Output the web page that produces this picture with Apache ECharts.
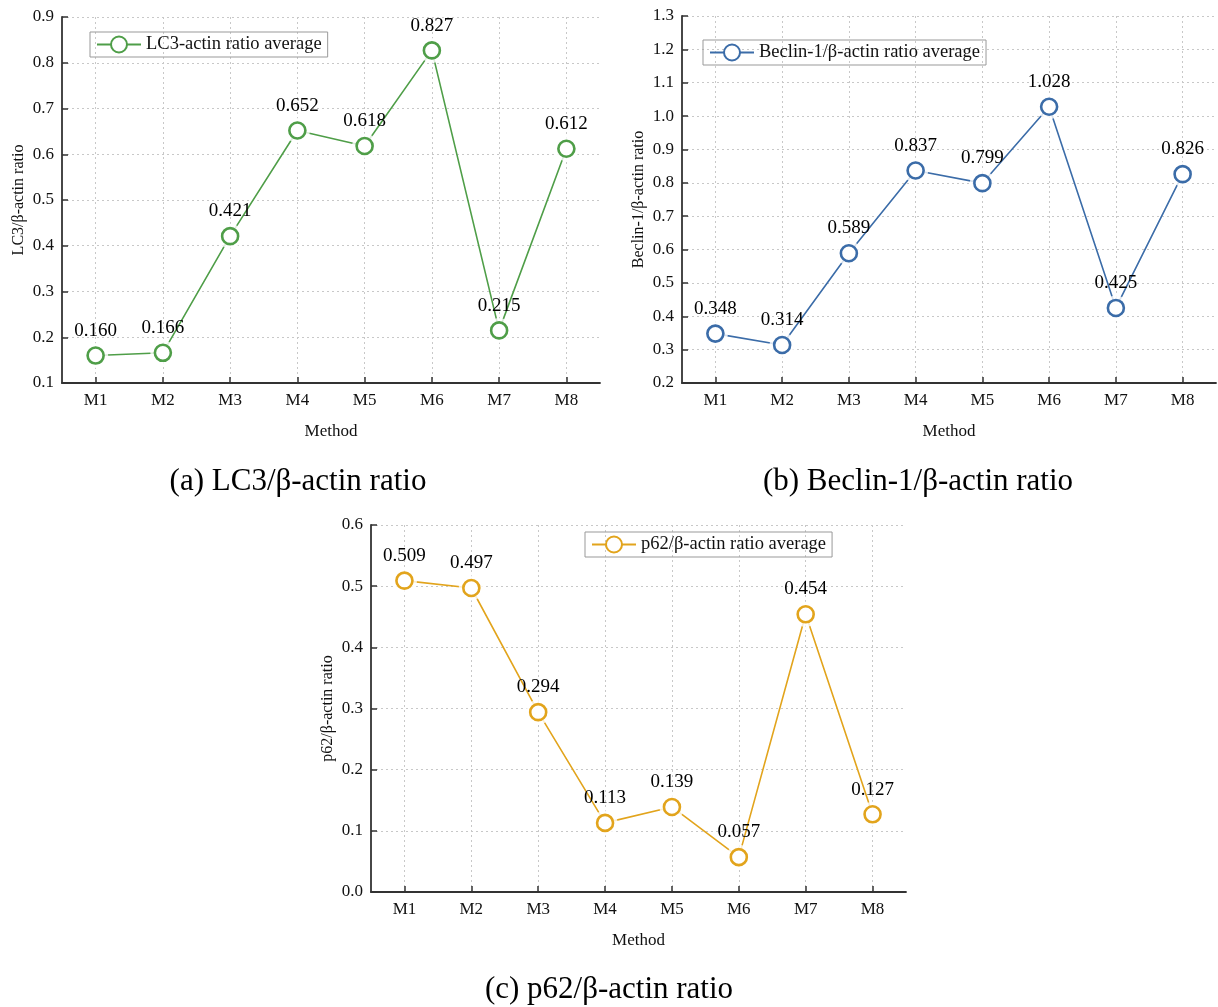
<!DOCTYPE html>
<html>
<head>
<meta charset="utf-8">
<script src="https://cdn.jsdelivr.net/npm/echarts@6/dist/echarts.min.js"></script>
<style>html,body{margin:0;padding:0;background:#fff}#c{width:1218px;height:1007px}</style>
</head>
<body>
<div id="c"></div>
<script>
const categories = ['M1','M2','M3','M4','M5','M6','M7','M8'];
const lc3Values = [0.160, 0.166, 0.421, 0.652, 0.618, 0.827, 0.215, 0.612];
const beclinValues = [0.348, 0.314, 0.589, 0.837, 0.799, 1.028, 0.425, 0.826];
const p62Values = [0.509, 0.497, 0.294, 0.113, 0.139, 0.057, 0.454, 0.127];
const seriesNames = ['LC3-actin ratio average', 'Beclin-1/β-actin ratio average', 'p62/β-actin ratio average'];
const yAxisNames = ['LC3/β-actin ratio', 'Beclin-1/β-actin ratio', 'p62/β-actin ratio'];
const xAxisName = 'Method';
const captions = ['(a) LC3/β-actin ratio', '(b) Beclin-1/β-actin ratio', '(c) p62/β-actin ratio'];
const yRanges = [[0.1, 0.9], [0.2, 1.3], [0.0, 0.6]];
const yInterval = 0.1;

const FONT = 'Liberation Serif';
const TXT = '#111';
const colors = ['#4f9e48', '#3b6ca8', '#e2a41c'];
const grids = [
  {left: 62, top: 17, width: 538, height: 366},
  {left: 682, top: 16, width: 534, height: 367},
  {left: 371, top: 525, width: 535, height: 367}
];
const legendPos = [
  {left: 90, top: 32},
  {left: 703, top: 40},
  {left: 585, top: 532}
];
const captionPos = [[298, 482], [918, 482], [609, 990]];
const allData = [lc3Values, beclinValues, p62Values];

const axisLineStyle = {color: '#333', width: 1.8};
const splitStyle = {color: '#c8c8c8', type: [2, 3], width: 1};

const option = {
  animation: false,
  backgroundColor: '#fff',
  textStyle: {fontFamily: FONT, color: TXT},
  grid: grids.map(g => Object.assign({containLabel: false}, g)),
  xAxis: grids.map((g, i) => ({
    type: 'category', gridIndex: i, data: categories,
    name: xAxisName, nameLocation: 'middle', nameGap: 40,
    nameTextStyle: {fontFamily: FONT, fontSize: 17, color: TXT},
    axisLine: {lineStyle: axisLineStyle},
    axisTick: {show: true, inside: true, alignWithLabel: true, length: 6, lineStyle: {color: '#333', width: 1.5}},
    axisLabel: {fontFamily: FONT, fontSize: 17, color: TXT, margin: 9},
    splitLine: {show: true, alignWithLabel: true, lineStyle: splitStyle}
  })),
  yAxis: grids.map((g, i) => ({
    type: 'value', gridIndex: i, min: yRanges[i][0], max: yRanges[i][1], interval: yInterval,
    name: yAxisNames[i], nameLocation: 'middle', nameGap: 35,
    nameTextStyle: {fontFamily: FONT, fontSize: 16, color: TXT},
    axisLine: {show: true, lineStyle: axisLineStyle},
    axisTick: {show: true, inside: true, length: 6, lineStyle: {color: '#333', width: 1.5}},
    axisLabel: {fontFamily: FONT, fontSize: 17, color: TXT, margin: 8, formatter: v => v.toFixed(1)},
    splitLine: {show: true, lineStyle: splitStyle}
  })),
  legend: legendPos.map((p, i) => ({
    left: p.left, top: p.top, data: [seriesNames[i]],
    orient: 'horizontal',
    borderColor: '#999', borderWidth: 1, padding: [3, 6],
    itemWidth: 44, itemHeight: 20, itemGap: 4,
    textStyle: {fontFamily: FONT, fontSize: 18.5, color: TXT},
    selectedMode: false
  })),
  series: [],
  graphic: captions.map((t, i) => ({
    type: 'text', x: captionPos[i][0], y: captionPos[i][1],
    style: {text: t, fontFamily: FONT, fontSize: 31, fill: '#000', textAlign: 'center', textVerticalAlign: 'middle'}
  }))
};

allData.forEach((vals, i) => {
  option.series.push({
    type: 'line', name: seriesNames[i], xAxisIndex: i, yAxisIndex: i, data: vals, z: 2,
    symbol: 'emptyCircle', symbolSize: 16,
    lineStyle: {color: colors[i], width: 1.6},
    itemStyle: {color: colors[i], borderColor: colors[i], borderWidth: 2.5}
  });
  option.series.push({
    type: 'scatter', name: seriesNames[i] + ' gap', xAxisIndex: i, yAxisIndex: i, data: vals, z: 3,
    symbol: 'circle', symbolSize: 25, silent: true,
    itemStyle: {color: '#fff'}
  });
  option.series.push({
    type: 'scatter', name: seriesNames[i] + ' mark', xAxisIndex: i, yAxisIndex: i, data: vals, z: 4,
    symbol: 'circle', symbolSize: 16, silent: true,
    itemStyle: {color: '#fff', borderColor: colors[i], borderWidth: 2.6, opacity: 1},
    label: {show: true, position: 'top', distance: 6, fontFamily: FONT, fontSize: 19, color: '#000',
      formatter: p => p.value.toFixed(3)}
  });
});

const chart = echarts.init(document.getElementById('c'), null, {renderer: 'canvas'});
chart.setOption(option);
</script>
</body>
</html>
